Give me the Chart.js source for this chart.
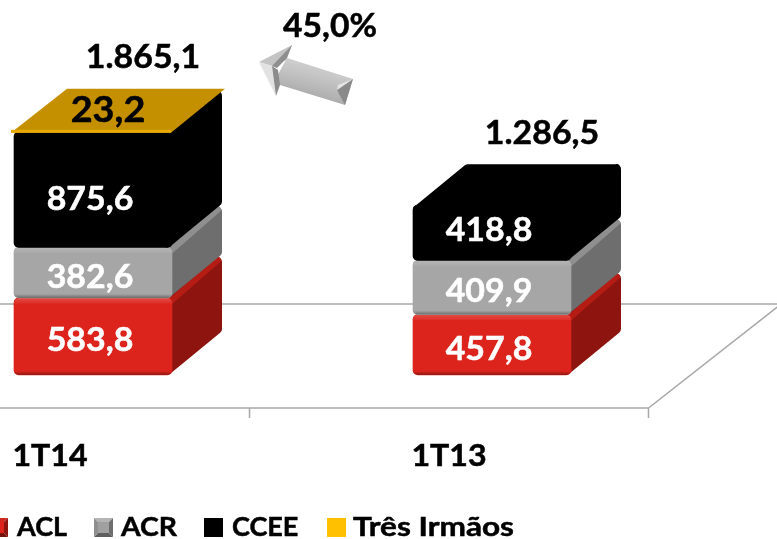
<!DOCTYPE html>
<html>
<head>
<meta charset="utf-8">
<style>html,body{margin:0;padding:0;background:#fff;overflow:hidden}canvas{display:block}</style>
<script src="https://cdn.jsdelivr.net/npm/chart.js@4"></script>
</head>
<body>
<canvas id="c" width="777" height="539"></canvas>
<script>
const categories = ['1T14', '1T13'];
const aclValues = [583.8, 457.8];
const acrValues = [382.6, 409.9];
const cceeValues = [875.6, 418.8];
const tresIrmaosValues = [23.2, null];
const totals = [1865.1, 1286.5];
const growthLabel = '45,0%';

const FONT = 'Lato, Carlito, sans-serif';
const DX = 50, DY = 41, FLOOR_SHIFT = 43;

function fmt(v) {
  const [i, d] = v.toFixed(1).split('.');
  return i.replace(/\B(?=(\d{3})+$)/g, '.') + ',' + d;
}
function poly(ctx, pts) {
  ctx.beginPath();
  pts.forEach((p, i) => i ? ctx.lineTo(p[0], p[1]) : ctx.moveTo(p[0], p[1]));
  ctx.closePath();
}
function text(ctx, s, x, y, size, color, align, sx) {
  ctx.save();
  ctx.font = 'bold ' + size + 'px ' + FONT;
  ctx.fillStyle = color;
  ctx.strokeStyle = color;
  ctx.lineWidth = 0.5;
  ctx.textAlign = align || 'center';
  ctx.textBaseline = 'middle';
  ctx.translate(x, y);
  ctx.scale(sx || 1, 1);
  ctx.fillText(s, 0, 0);
  ctx.strokeText(s, 0, 0);
  ctx.restore();
}

const looks = [
  { side: '#8e150f', edge: '#b51c14', label: '#fff' },
  { side: '#6e6e6e', edge: '#8f8f8f', label: '#fff' },
  { side: '#000', edge: '#000', label: '#fff' },
  { side: '#c49000', edge: '#c49000', label: '#000' }
];
const nudge = [[4, 4.5], [5, 4], [10, -2], [0, 0]];

const box3d = {
  id: 'box3d',
  beforeDatasetDraw() { return false; },
  beforeDatasetsDraw(chart) {
    const { ctx } = chart;
    const xs = chart.scales.x;
    const zero = chart.scales.y.getPixelForValue(0);
    const step = xs.getPixelForValue(1) - xs.getPixelForValue(0);
    const fy = zero + 33, by = zero - 71;
    ctx.save();
    ctx.strokeStyle = '#a9a9a9';
    ctx.lineWidth = 1.5;
    ctx.beginPath();
    ctx.moveTo(0, by); ctx.lineTo(777, by);
    const right = xs.getPixelForValue(1) + step / 2 - FLOOR_SHIFT;
    ctx.moveTo(0, fy); ctx.lineTo(right, fy);
    ctx.lineTo(right + 130, fy - 102);
    categories.forEach((c, i) => {
      const t = xs.getPixelForValue(i) + step / 2 - FLOOR_SHIFT;
      ctx.moveTo(t, fy); ctx.lineTo(t, fy + 10);
    });
    ctx.stroke();
    ctx.restore();
  },
  afterDatasetsDraw(chart) {
    const { ctx } = chart;
    const xs = chart.scales.x;
    const metas = chart.data.datasets.map((d, i) => chart.getDatasetMeta(i));
    metas.forEach((meta, di) => {
      meta.data.forEach((bar, ci) => {
        if (chart.data.datasets[di].data[ci].y == null) return;
        const p = bar.getProps(['x', 'y', 'base', 'width']);
        const l = p.x - p.width / 2, r = p.x + p.width / 2, t = p.y, b = p.base;
        const look = looks[di];
        ctx.save();
        if (di === 3) {
          poly(ctx, [[l - 3, t + 4], [l + DX + 3, t - DY + 1], [r + DX + 3, t - DY + 1], [r - 1, t + 4]]);
          ctx.fillStyle = look.side; ctx.fill();
          ctx.fillStyle = '#eaa900';
          ctx.fillRect(l - 3, t + 1, p.width + 2, 3);
          ctx.restore();
          return;
        }
        const rad = 5;
        poly(ctx, [[l + rad, t + rad], [l + DX + rad, t - DY + rad], [r + DX - rad, t - DY + rad], [r + DX - rad, b - DY - rad], [r - rad, b - rad]]);
        ctx.lineJoin = 'round';
        ctx.lineWidth = rad * 2;
        ctx.strokeStyle = look.side; ctx.fillStyle = look.side;
        ctx.fill(); ctx.stroke();
        ctx.beginPath();
        ctx.moveTo(r - 1, t + 3); ctx.lineTo(r + DX - 4, t - DY + 3);
        ctx.lineWidth = 6; ctx.lineCap = 'round'; ctx.strokeStyle = look.edge;
        ctx.stroke();
        bar.enableBorderRadius = true;
        bar.draw(ctx);
        if (di < 2) {
          const g = ctx.createLinearGradient(0, t, 0, b);
          const h = b - t;
          g.addColorStop(0, 'rgba(255,255,255,.18)');
          g.addColorStop(5 / h, 'rgba(255,255,255,.06)');
          g.addColorStop(6 / h, 'rgba(255,255,255,0)');
          g.addColorStop(1 - 4 / h, 'rgba(0,0,0,0)');
          g.addColorStop(1, 'rgba(0,0,0,.35)');
          ctx.beginPath();
          ctx.roundRect(l, t, p.width, h, rad);
          ctx.fillStyle = g; ctx.fill();
        }
        ctx.restore();
      });
    });
    metas.forEach((meta, di) => {
      meta.data.forEach((bar, ci) => {
        const v = chart.data.datasets[di].data[ci].y;
        if (v == null) return;
        const p = bar.getProps(['x', 'y', 'base']);
        if (di === 3) {
          text(ctx, fmt(v), p.x + 15, p.y - 18, 36, '#000', 'center', 1.05);
        } else {
          text(ctx, fmt(v), p.x - 3, (p.y + p.base) / 2 + nudge[di][ci], 32, looks[di].label, 'center', 1.06);
        }
      });
    });
    totals.forEach((v, i) => {
      const top = chart.scales.y.getPixelForValue(v);
      text(ctx, fmt(v), xs.getPixelForValue(i) + 50, top - 71, 32, '#000', 'center', 1.06);
    });
    const zero = chart.scales.y.getPixelForValue(0);
    categories.forEach((c, i) => {
      text(ctx, c, xs.getPixelForValue(i) - FLOOR_SHIFT, zero + 81, 30, '#000', 'center', 1.07);
    });
    text(ctx, growthLabel, 330, 27, 32, '#000', 'center', 1.05);
    drawArrow(ctx);
    drawLegend(chart);
  }
};

function drawArrow(ctx) {
  const g = ctx.createLinearGradient(300, 55, 290, 95);
  g.addColorStop(0, '#d4d4d4'); g.addColorStop(.5, '#c0c0c0'); g.addColorStop(1, '#a8a8a8');
  poly(ctx, [[287, 58], [353, 79], [345, 105], [280, 85], [276, 78]]); ctx.fillStyle = g; ctx.fill();
  poly(ctx, [[353, 79], [345, 105], [337, 90]]); ctx.fillStyle = '#8a8a8a'; ctx.fill();
  poly(ctx, [[353, 79], [337, 90], [338, 85]]); ctx.fillStyle = '#e4e4e4'; ctx.fill();
  poly(ctx, [[259, 62], [292, 45], [286, 60], [272, 66]]); ctx.fillStyle = '#c4c4c4'; ctx.fill();
  poly(ctx, [[292, 45], [287, 58], [277, 68], [272, 66]]); ctx.fillStyle = '#8f8f8f'; ctx.fill();
  poly(ctx, [[259, 62], [272, 66], [276, 96]]); ctx.fillStyle = '#e2e2e2'; ctx.fill();
  poly(ctx, [[272, 66], [278, 70], [280, 85], [276, 96]]); ctx.fillStyle = '#8c8c8c'; ctx.fill();
}

function bevelSwatch(ctx, x, y, s, shades) {
  const c = [x + s / 2, y + s / 2];
  const tl = [x, y], tr = [x + s, y], br = [x + s, y + s], bl = [x, y + s];
  [[tl, tr], [tr, br], [br, bl], [bl, tl]].forEach((e, i) => {
    poly(ctx, [e[0], e[1], c]);
    ctx.fillStyle = shades[i];
    ctx.fill();
  });
  ctx.fillStyle = shades[4];
  ctx.fillRect(x + 4, y + 4, s - 8, s - 8);
}

function drawLegend(chart) {
  const { ctx } = chart;
  const swatchX = [-11, 94, 204, 327];
  const textX = [17, 121, 232, 353];
  const stretch = [1, 1.05, 1, 1.17];
  const y0 = 518, s = 19;
  chart.data.datasets.forEach((d, i) => {
    const x = swatchX[i];
    if (i === 0) bevelSwatch(ctx, x, y0, s, ['#d0281f', '#8e150f', '#7a120c', '#b51c14', '#dc241c']);
    else if (i === 1) bevelSwatch(ctx, x, y0, s, ['#b4b4b4', '#6e6e6e', '#5e5e5e', '#8f8f8f', '#a0a0a0']);
    else {
      ctx.fillStyle = i === 2 ? '#000' : '#ffc000';
      ctx.fillRect(x, y0, s, s);
    }
    text(ctx, d.label, textX[i], y0 + 9, 27, '#000', 'left', stretch[i]);
  });
}

const toPoints = (vals) => vals.map((y, x) => ({ x, y }));

new Chart(document.getElementById('c'), {
  type: 'bar',
  data: {
    datasets: [
      { label: 'ACL', data: toPoints(aclValues), backgroundColor: '#dc241c' },
      { label: 'ACR', data: toPoints(acrValues), backgroundColor: '#a6a6a6' },
      { label: 'CCEE', data: toPoints(cceeValues), backgroundColor: '#000000' },
      { label: 'Três Irmãos', data: toPoints(tresIrmaosValues), backgroundColor: '#c49000' }
    ]
  },
  options: {
    responsive: false,
    animation: false,
    layout: { padding: { left: 0, right: 0, top: 0, bottom: 164 } },
    elements: { bar: { borderRadius: 5, borderSkipped: false } },
    datasets: { bar: { barThickness: 158 } },
    plugins: { legend: { display: false }, tooltip: { enabled: false } },
    scales: {
      x: { type: 'linear', offset: false, stacked: true, display: false, min: -0.2331, max: 1.7143 },
      y: { stacked: true, display: false, min: 0, max: 2841 }
    }
  },
  plugins: [box3d]
});
</script>
</body>
</html>
